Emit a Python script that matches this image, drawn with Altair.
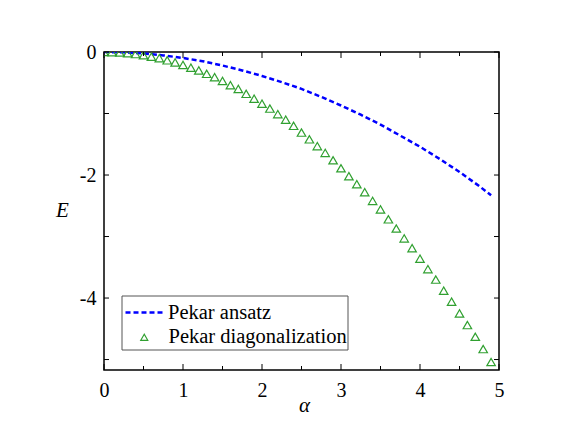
import altair as alt
import pandas as pd

# Pekar diagonalization (triangles)
alpha_diag = [0.0, 0.1, 0.2, 0.3, 0.4, 0.5, 0.6, 0.7, 0.8, 0.9,
              1.0, 1.1, 1.2, 1.3, 1.4, 1.5, 1.6, 1.7, 1.8, 1.9,
              2.0, 2.1, 2.2, 2.3, 2.4, 2.5, 2.6, 2.7, 2.8, 2.9,
              3.0, 3.1, 3.2, 3.3, 3.4, 3.5, 3.6, 3.7, 3.8, 3.9,
              4.0, 4.1, 4.2, 4.3, 4.4, 4.5, 4.6, 4.7, 4.8, 4.9]
E_diag = [0, -0.002, -0.008, -0.019, -0.034, -0.053, -0.076, -0.10, -0.135, -0.17,
          -0.21, -0.255, -0.30, -0.355, -0.41, -0.47, -0.54, -0.60, -0.68, -0.76,
          -0.84, -0.92, -1.01, -1.10, -1.20, -1.31, -1.42, -1.53, -1.64, -1.76,
          -1.89, -2.02, -2.15, -2.28, -2.42, -2.56, -2.72, -2.87, -3.03, -3.19,
          -3.36, -3.53, -3.70, -3.88, -4.06, -4.25, -4.44, -4.63, -4.83, -5.04]

# Pekar ansatz (dashed line)
alpha_ans = [0.0, 0.25, 0.5, 0.75, 1.0, 1.25, 1.5, 1.75, 2.0, 2.25, 2.5,
             2.75, 3.0, 3.25, 3.5, 3.75, 4.0, 4.25, 4.5, 4.75, 4.9]
E_ans = [0, -0.006, -0.024, -0.055, -0.097, -0.15, -0.22, -0.30, -0.39, -0.49, -0.60,
         -0.73, -0.87, -1.02, -1.18, -1.36, -1.54, -1.74, -1.95, -2.18, -2.33]

x_labels = [0, 1, 2, 3, 4, 5]
x_minor = [0.5, 1.5, 2.5, 3.5, 4.5]
y_labels = [0, -2, -4]
y_ticks = [0, -1, -2, -3, -4, -5]

W, H = 395, 318
FONT = "Liberation Serif"
GREEN = "#30a030"

xs = alt.Scale(domain=[0, 5], nice=False, zero=False)
ys = alt.Scale(domain=[-5.17, 0], nice=False, zero=False)

df_diag = pd.DataFrame({"alpha": alpha_diag, "E": E_diag, "s": "Pekar diagonalization"})
df_ans = pd.DataFrame({"alpha": alpha_ans, "E": E_ans, "s": "Pekar ansatz"})

box = alt.Chart(pd.DataFrame({"a": [0]})).mark_rect(
    fill="white", stroke="#555555", strokeWidth=1
).encode(x=alt.value(18), x2=alt.value(244), y=alt.value(244), y2=alt.value(298))

line = alt.Chart(df_ans).mark_line(
    color="#0000ff", strokeDash=[5, 3], strokeWidth=2.5, clip=True
).encode(
    x=alt.X("alpha:Q", scale=xs,
            axis=alt.Axis(values=x_labels, title="α", labelPadding=10,
                          labelExpr="'' + datum.value", labelFlush=False,
                          titleFontStyle="italic", titleX=200, titleY=35,
                          titleBaseline="middle")),
    y=alt.Y("E:Q", scale=ys,
            axis=alt.Axis(values=y_labels, title="E", labelPadding=8,
                          labelExpr="'' + datum.value", labelFlush=False,
                          titleFontStyle="italic", titleAngle=0, titleX=-42,
                          titleY=158, titleAlign="center", titleBaseline="middle")),
    color=alt.Color("s:N", scale=alt.Scale(domain=["Pekar ansatz"], range=["#0000ff"]),
                    legend=alt.Legend(orient="none", legendX=20, legendY=240, title=None,
                                      symbolType="stroke", symbolSize=1444,
                                      symbolStrokeWidth=2.5, symbolDash=[5, 3],
                                      symbolStrokeColor="#0000ff", labelOffset=3,
                                      labelLimit=0, padding=0)),
)

pts = alt.Chart(df_diag).mark_point(
    shape="triangle-up", filled=False, color=GREEN, size=72, strokeWidth=1.2,
    opacity=1, clip=True
).encode(
    x=alt.X("alpha:Q", scale=xs),
    y=alt.Y("E:Q", scale=ys),
    shape=alt.Shape("s:N", scale=alt.Scale(domain=["Pekar diagonalization"], range=["triangle-up"]),
                    legend=alt.Legend(orient="none", legendX=30, legendY=275, title=None,
                                      symbolSize=49, symbolStrokeColor=GREEN,
                                      symbolFillColor="transparent", symbolStrokeWidth=1.2,
                                      symbolOpacity=1,
                                      labelOffset=14, labelLimit=0, padding=0)),
)

def xticks(vals, length, top):
    d = pd.DataFrame({"v": vals})
    if top:
        return alt.Chart(d).mark_rule(color="black", strokeWidth=1).encode(
            x=alt.X("v:Q", scale=xs), y=alt.value(0), y2=alt.value(length))
    return alt.Chart(d).mark_rule(color="black", strokeWidth=1).encode(
        x=alt.X("v:Q", scale=xs), y=alt.value(H), y2=alt.value(H - length))

def yticks(vals, length, right):
    d = pd.DataFrame({"v": vals})
    if right:
        return alt.Chart(d).mark_rule(color="black", strokeWidth=1).encode(
            y=alt.Y("v:Q", scale=ys), x=alt.value(W), x2=alt.value(W - length))
    return alt.Chart(d).mark_rule(color="black", strokeWidth=1).encode(
        y=alt.Y("v:Q", scale=ys), x=alt.value(0), x2=alt.value(length))

ticks = [xticks(x_labels, 6, False), xticks(x_minor, 4, False),
         xticks(x_labels, 6, True), xticks(x_minor, 4, True),
         yticks(y_ticks, 5, False), yticks(y_ticks, 5, True)]

chart = alt.layer(box, line, pts, *ticks).properties(
    width=W, height=H, autosize="none",
    padding={"left": 96, "top": 44, "right": 60, "bottom": 60},
).configure_view(
    stroke="black", strokeWidth=1.5
).configure_axis(
    labelFont=FONT, labelFontSize=20, labelColor="black",
    titleFont=FONT, titleFontSize=21, titleColor="black", titleFontWeight="normal",
    ticks=False, domain=False, grid=False,
).configure_legend(
    labelFont=FONT, labelFontSize=20.5, labelColor="black",
).resolve_scale(color="independent", shape="independent")

chart.save("out.html", embed_options={"renderer": "svg", "actions": False})
